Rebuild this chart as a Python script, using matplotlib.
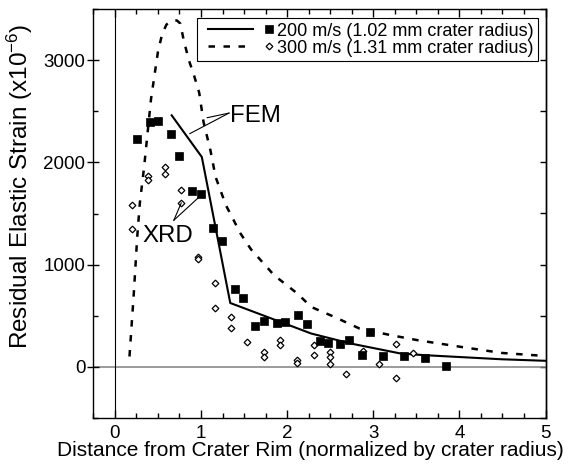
import matplotlib
matplotlib.use('Agg')
import matplotlib.pyplot as plt
from matplotlib import font_manager
from matplotlib.lines import Line2D
from matplotlib.legend_handler import HandlerBase
from matplotlib.ticker import MultipleLocator

# ---------------- data ----------------
# XRD measurements, 200 m/s (filled squares)
xrd200_x = [0.26, 0.41, 0.50, 0.65, 0.75, 0.90, 1.00, 1.14, 1.24, 1.39, 1.49, 1.63, 1.73, 1.88,
            1.98, 2.13, 2.23, 2.38, 2.47, 2.61, 2.72, 2.87, 2.96, 3.11, 3.36, 3.60, 3.85]
xrd200_y = [2233, 2392, 2402, 2275, 2063, 1720, 1688, 1362, 1231, 761, 670, 399, 452, 429,
            442, 504, 423, 256, 233, 218, 259, 113, 344, 103, 103, 83, 5]

# XRD measurements, 300 m/s (open diamonds)
xrd300_x = [0.20, 0.20, 0.39, 0.39, 0.58, 0.58, 0.77, 0.77, 0.96, 0.96, 1.16, 1.16, 1.35, 1.35,
            1.54, 1.73, 1.73, 1.92, 1.92, 2.12, 2.12, 2.31, 2.31, 2.50, 2.50, 2.50, 2.68, 2.88,
            3.07, 3.26, 3.26, 3.46]
xrd300_y = [1583, 1352, 1867, 1825, 1959, 1884, 1730, 1603, 1076, 1052, 824, 575, 484, 377,
            243, 142, 96, 266, 217, 61, 41, 217, 113, 142, 100, 24, -67, 155,
            24, 220, -110, 132]

# FEM predictions
fem200_x = [0.66, 1.01, 1.34, 2.28, 2.74, 3.32, 3.60, 4.49, 5.00]
fem200_y = [2461, 2053, 624, 325, 227, 129, 113, 73, 58]

fem300_x = [0.17, 0.22, 0.26, 0.29, 0.34, 0.42, 0.50, 0.55, 0.60, 0.65, 0.72, 0.76, 0.80, 0.86,
            0.92, 0.98, 1.03, 1.11, 1.17, 1.29, 1.46, 1.58, 1.85, 2.12, 2.28, 2.55, 2.84, 3.21,
            3.52, 4.02, 4.49, 5.00]
fem300_y = [100, 716, 1270, 1600, 1955, 2620, 3080, 3260, 3350, 3385, 3390, 3360, 3195, 3000,
            2850, 2680, 2395, 2118, 1857, 1580, 1303, 1150, 895, 716, 585, 487, 374, 308,
            259, 194, 135, 105]

x_ticks = [0, 1, 2, 3, 4, 5]
y_ticks = [0, 1000, 2000, 3000]
legend_labels = ['200 m/s (1.02 mm crater radius)', '300 m/s (1.31 mm crater radius)']
x_label = 'Distance from Crater Rim (normalized by crater radius)'
y_label = 'Residual Elastic Strain (x10$^{-6}$)'

# annotation anchors (label position, leader start, leader ends)
fem_text = (1.34, 2392)
fem_from = (1.325, 2483)
fem_to = [(1.073, 2438), (0.871, 2282)]
xrd_text = (0.318, 1218)
xrd_from = (0.685, 1434)
xrd_to = [(0.771, 1603), (0.987, 1668)]

# ---------------- fonts ----------------
base = 'Liberation Sans'
try:
    font_manager.findfont('Liberation Sans Narrow', fallback_to_default=False)
    narrow, xlab_size = 'Liberation Sans Narrow', 17.5
except Exception:
    narrow, xlab_size = base, 15

plt.rcParams['font.family'] = [base, 'DejaVu Sans']
plt.rcParams['mathtext.fontset'] = 'custom'
plt.rcParams['mathtext.rm'] = base
plt.rcParams['mathtext.default'] = 'regular'

W, H = 568, 470
fig = plt.figure(figsize=(W / 100, H / 100), dpi=100)
L, R, T, B = 93.3, 545.5, 9.2, 417.8
ax = fig.add_axes([L / W, 1 - B / H, (R - L) / W, (B - T) / H])

ax.set_xlim(-0.25, 5)
ax.set_ylim(-500, 3500)

# reference lines
ax.axhline(0, color='#808080', lw=1.1, zorder=1)
ax.axvline(0, color='black', lw=0.8, zorder=1)

# FEM curves
l200, = ax.plot(fem200_x, fem200_y, color='black', lw=1.5, zorder=2)
l300, = ax.plot(fem300_x, fem300_y, color='black', lw=1.8, ls=(0, (2.6, 3.4)), zorder=2)

# XRD points
m200, = ax.plot(xrd200_x, xrd200_y, ls='none', marker='s', ms=5.5, mfc='black', mec='black',
                mew=0.5, zorder=4)
m300, = ax.plot(xrd300_x, xrd300_y, ls='none', marker='D', ms=3.4, mfc='white', mec='black',
                mew=0.9, zorder=3)

# annotations
ax.text(fem_text[0], fem_text[1], 'FEM', fontsize=17.3, ha='left', va='baseline', zorder=5)
for p in fem_to:
    ax.plot([fem_from[0], p[0]], [fem_from[1], p[1]], color='black', lw=0.8, zorder=5)
ax.text(xrd_text[0], xrd_text[1], 'XRD', fontsize=17.3, ha='left', va='baseline', zorder=5)
for p in xrd_to:
    ax.plot([xrd_from[0], p[0]], [xrd_from[1], p[1]], color='black', lw=0.8, zorder=5)

# ticks
ax.xaxis.set_major_locator(MultipleLocator(1))
ax.xaxis.set_minor_locator(MultipleLocator(0.25))
ax.set_xticks(x_ticks)
ax.set_xticklabels([str(v) for v in x_ticks])
ax.yaxis.set_major_locator(MultipleLocator(1000))
ax.yaxis.set_minor_locator(MultipleLocator(500))
ax.set_yticks(y_ticks)
ax.set_yticklabels([str(v) for v in y_ticks])
ax.tick_params(axis='x', which='both', direction='in', top=True, bottom=True,
               labelsize=13.5, pad=5, width=1)
ax.tick_params(axis='x', which='major', length=6)
ax.tick_params(axis='x', which='minor', length=3.5)
ax.tick_params(axis='y', which='major', direction='inout', length=8.5, width=1,
               labelsize=13.5, pad=1.5, right=False)
ax.tick_params(axis='y', which='minor', direction='in', length=3.5, width=1, right=False)
sec = ax.secondary_yaxis('right')
sec.yaxis.set_major_locator(MultipleLocator(500))
sec.tick_params(axis='y', which='major', direction='in', length=4, width=1, labelright=False)
sec.spines['right'].set_linewidth(1.0)
for s in ax.spines.values():
    s.set_linewidth(1.0)

# labels
ax.set_xlabel(x_label, fontsize=xlab_size, family=[narrow, base])
ax.xaxis.label.set_va('center')
ax.xaxis.set_label_coords((310 - L) / (R - L), (B - 451) / (B - T))
ax.set_ylabel(y_label, fontsize=17.5)
ax.yaxis.label.set_va('center')
ax.yaxis.set_label_coords((20 - L) / (R - L), (B - 186) / (B - T))


# legend: line then marker, like the original
class LineThenMarker(HandlerBase):
    def create_artists(self, legend, orig_handle, xdescent, ydescent, width, height,
                       fontsize, trans):
        line, mark = orig_handle
        y = height / 2 - ydescent
        x0 = -xdescent
        ln = Line2D([x0 + 0.09 * width, x0 + 0.73 * width], [y, y])
        ln.update_from(line)
        mk = Line2D([x0 + 0.953 * width], [y])
        mk.update_from(mark)
        mk.set_linestyle('None')
        ln.set_transform(trans)
        mk.set_transform(trans)
        return [ln, mk]


leg = ax.legend(handles=[(l200, m200), (l300, m300)], labels=legend_labels,
                handler_map={tuple: LineThenMarker()}, loc='upper left',
                bbox_to_anchor=(197.3 / W, 1 - 18.3 / H), bbox_transform=fig.transFigure,
                borderaxespad=0, borderpad=0.25, handlelength=3.88, handletextpad=0.28,
                labelspacing=0.0, fontsize=13, fancybox=False, framealpha=1,
                edgecolor='black')
leg.get_frame().set_linewidth(0.8)
leg.set_zorder(6)

fig.savefig('out.png', dpi=100)
